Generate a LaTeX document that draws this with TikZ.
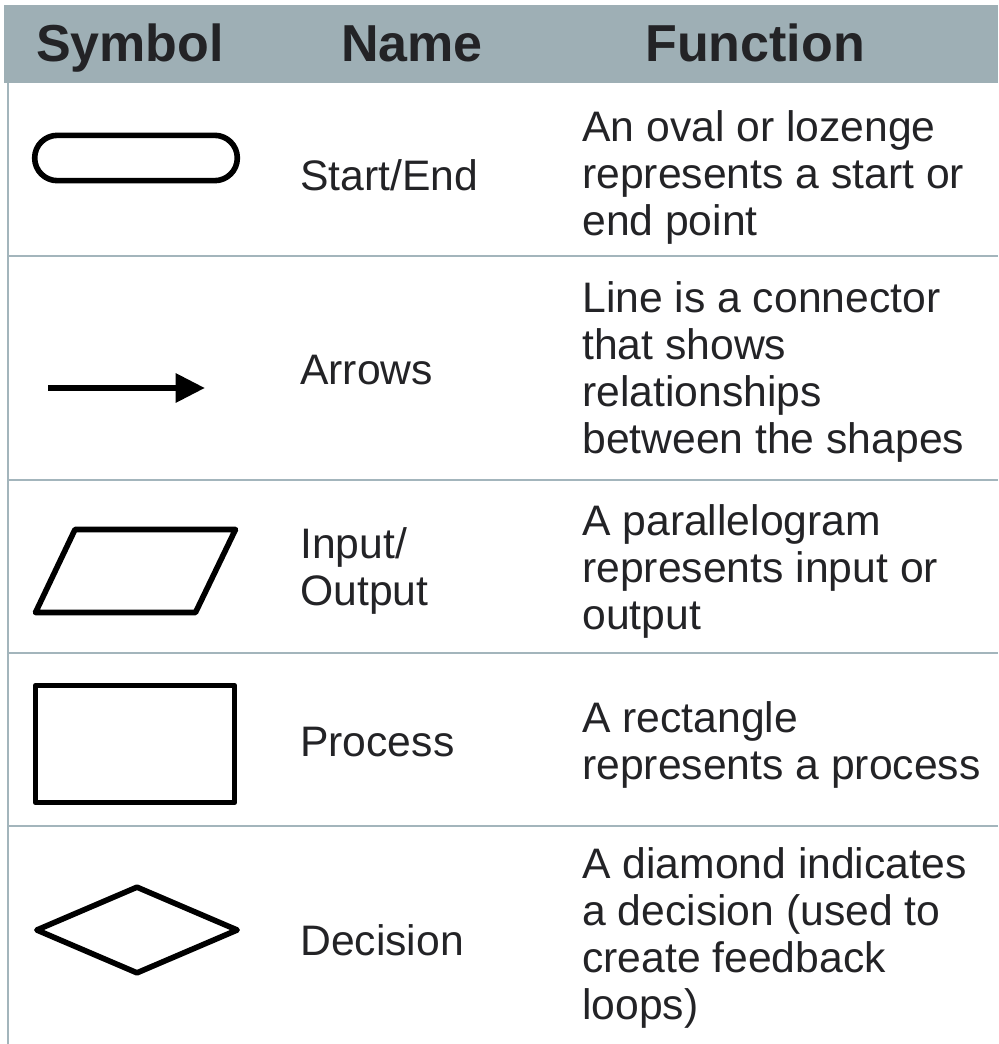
\documentclass[tikz,border=0pt]{standalone}
\usepackage{fontspec}
\setmainfont{Liberation Sans}
\usetikzlibrary{arrows.meta,shapes.geometric}

\definecolor{headgray}{RGB}{158,175,181}
\definecolor{rulegray}{RGB}{163,181,188}
\definecolor{inkgray}{RGB}{35,35,38}

\begin{document}
\begin{tikzpicture}[
    x=0.75pt, y=-0.75pt,
    symbol/.style={draw=black, line width=4.2pt, line join=round, inner sep=0pt},
    terminal/.style={symbol, rounded corners=17pt, minimum width=152pt, minimum height=34pt},
    process/.style={symbol, rectangle, minimum width=149pt, minimum height=88pt},
    decision/.style={symbol, diamond, minimum width=152pt, minimum height=66pt},
    head/.style={font=\fontsize{39}{44}\selectfont\bfseries, text=inkgray, inner sep=0pt, anchor=base},
    cell/.style={font=\fontsize{32}{35.25}\selectfont, text=inkgray, align=left, anchor=west, inner sep=0pt},
    rule/.style={draw=rulegray, line width=2pt}
]
\useasboundingbox (0,0) rectangle (998,1044);

% header band and grid
\fill[headgray] (4,5) rectangle (998,83);
\draw[rule] (8,83) -- (8,1044);
\foreach \y in {256,480,653,826}
    \draw[rule] (8,\y) -- (998,\y);

\node[head] (symhead) at (130,62) {Symbol};
\node[head] (namehead) at (412,62) {Name};
\node[head] (funchead) at (755,62) {Function};

% symbols
\node[terminal] (oval) at (136,158) {};
\coordinate (arrowtail) at (48,388);
\coordinate (arrowtip) at (205,388);
\draw[line width=4.6pt, -{Triangle[length=22pt,width=21pt]}] (arrowtail) -- (arrowtip);
\draw[symbol] (75,529.5) -- (235.5,529.5) -- (195.5,612.5) -- (35.5,612.5) -- cycle;
\node[process] (rect) at (135,744) {};
\node[decision] (diam) at (137,930) {};

% names
\node[cell] (ovalname) at (300,175) {Start/End};
\node[cell] (arrowname) at (300,370) {Arrows};
\node[cell] (ioname) at (300,571) {Input/\\Output};
\node[cell] (rectname) at (300,742) {Process};
\node[cell] (diamname) at (300,940) {Decision};

% functions
\node[cell] (ovalfunc) at (582,177) {An oval or lozenge\\represents a start or\\end point};
\node[cell] (arrowfunc) at (582,372) {Line is a connector\\that shows\\relationships\\between the shapes};
\node[cell] (iofunc) at (582,571) {A parallelogram\\represents input or\\output};
\node[cell] (rectfunc) at (582,745) {A rectangle\\represents a process};
\node[cell] (diamfunc) at (582,938) {A diamond indicates\\a decision (used to\\create feedback\\loops)};
\end{tikzpicture}
\end{document}
